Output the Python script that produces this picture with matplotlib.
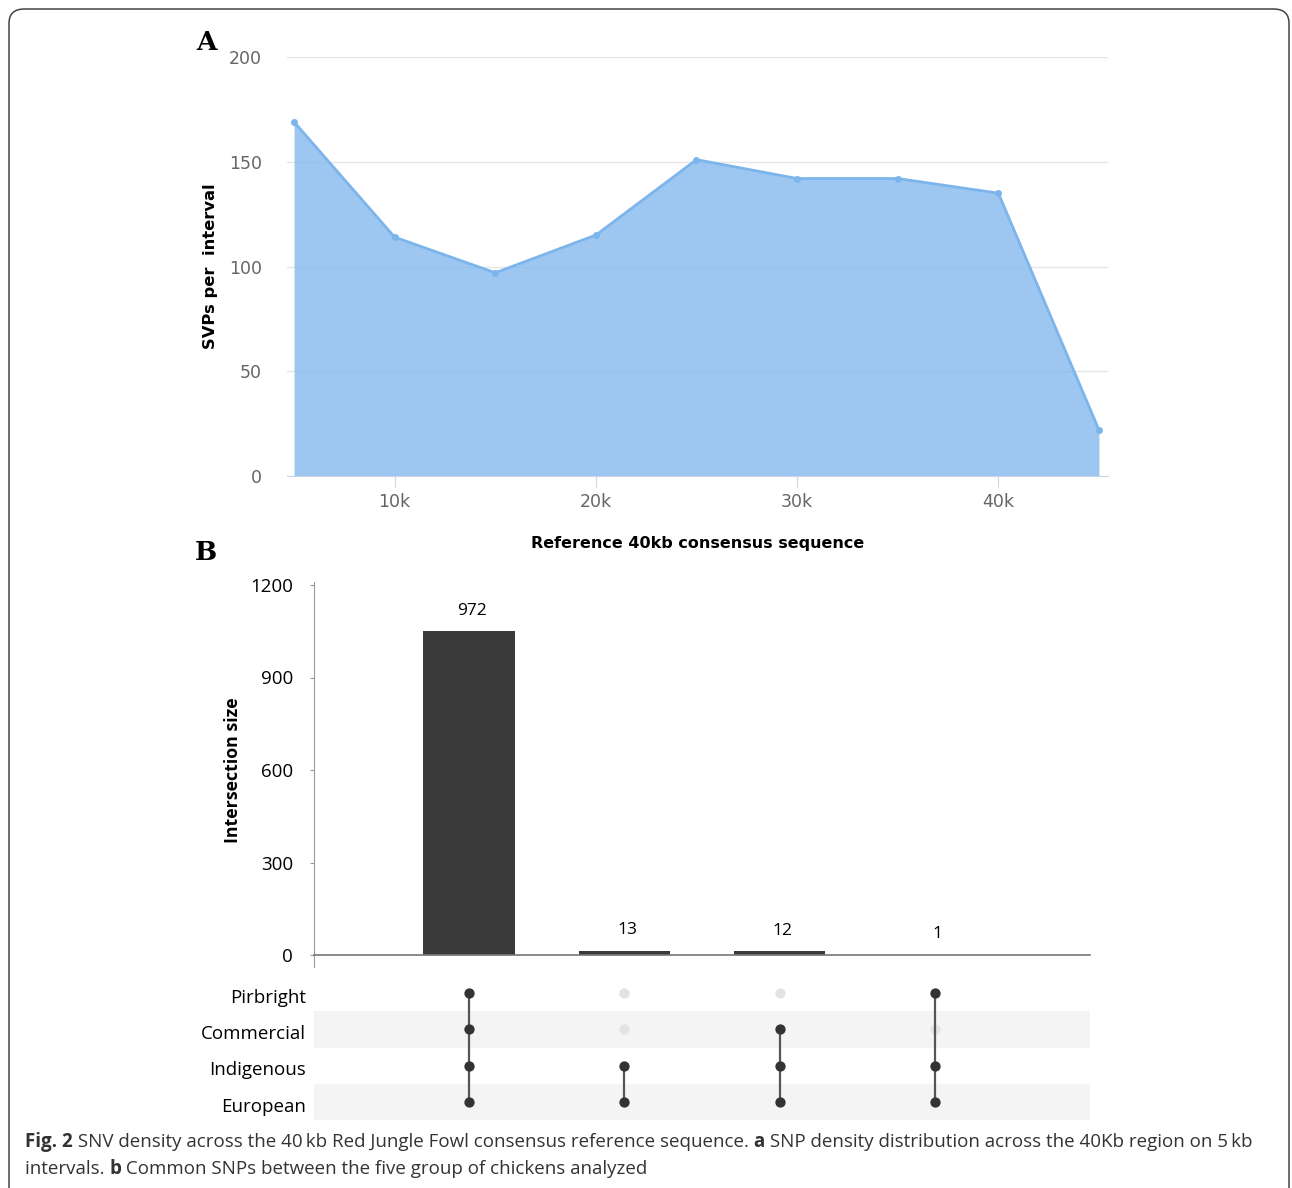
import matplotlib.pyplot as plt
import numpy as np
from matplotlib.patches import FancyBboxPatch

# panel A data: SNPs per 5 kb interval
positions_kb = [5, 10, 15, 20, 25, 30, 35, 40, 45]
svps = [169, 114, 97, 115, 151, 142, 142, 135, 22]

# panel B data: upset plot
sets = ['Pirbright', 'Commercial', 'Indigenous', 'European']
bar_heights = [1050, 13, 12, 1]          # heights as drawn in the figure
bar_labels = ['972', '13', '12', '1']    # labels printed above the bars
membership = [
    [1, 1, 1, 1],
    [0, 0, 1, 1],
    [0, 1, 1, 1],
    [1, 0, 1, 1],
]

W, H = 1292, 1188
fig = plt.figure(figsize=(W / 100, H / 100), dpi=100)


def fx(px):
    return px / W


def fy(py):
    return 1 - py / H


# rounded frame around the figure
frame = FancyBboxPatch((fx(9), fy(1230)), fx(1280), fy(9) - fy(1230),
                       boxstyle='round,pad=0,rounding_size=0.012',
                       transform=fig.transFigure, fill=False, lw=1.1, ec='#444444')
fig.patches.append(frame)

# ---------------- panel A ----------------
axA = fig.add_axes([fx(287), fy(476), fx(1108) - fx(287), fy(57) - fy(476)])
x = np.array(positions_kb) * 1000
axA.fill_between(x, svps, color='#7cb5ec', alpha=0.75, lw=0)
axA.plot(x, svps, color='#7cb5ec', lw=2, marker='o', markersize=4)
axA.set_xlim(4650, 45450)
axA.set_ylim(0, 200)
axA.set_yticks([0, 50, 100, 150, 200])
axA.set_xticks([10000, 20000, 30000, 40000])
axA.set_xticklabels(['10k', '20k', '30k', '40k'])
axA.grid(axis='y', color='#e6e6e6', lw=1)
axA.set_axisbelow(True)
for s in ['top', 'right', 'left']:
    axA.spines[s].set_visible(False)
axA.spines['bottom'].set_color('#ccd6eb')
axA.tick_params(axis='y', length=0, pad=18, labelcolor='#666666', labelsize=12.5)
axA.tick_params(axis='x', length=8, color='#ccd6eb', pad=4, labelcolor='#666666', labelsize=12.5)
axA.set_ylabel('SVPs per  interval', fontsize=11.8, fontweight='bold', labelpad=8)
axA.set_xlabel('Reference 40kb consensus sequence', fontsize=11.5, fontweight='bold', labelpad=18)
fig.text(fx(206), fy(42), 'A', family='serif', fontweight='bold', fontsize=19, ha='center', va='center')
fig.text(fx(206), fy(552), 'B', family='serif', fontweight='bold', fontsize=19, ha='center', va='center')

# ---------------- panel B bars ----------------
axB = fig.add_axes([fx(314), fy(955), fx(1090) - fx(314), fy(585) - fy(955)])
cols = np.arange(len(bar_heights))
axB.bar(cols, bar_heights, width=0.59, color='#3a3a3a')
for c, h, lab in zip(cols, bar_heights, bar_labels):
    axB.annotate(lab, (c + 0.02, h), xytext=(0, 9), textcoords='offset points',
                 ha='center', va='bottom', fontsize=12.5, family='Open Sans')
axB.set_xlim(-1, 4)
axB.set_ylim(0, 1200)
axB.set_yticks([0, 300, 600, 900, 1200])
axB.set_xticks([])
for s in ['top', 'right']:
    axB.spines[s].set_visible(False)
axB.spines['left'].set_color('#999999')
axB.spines['bottom'].set_color('#777777')
axB.spines['bottom'].set_linewidth(1.2)
axB.spines['left'].set_bounds(-40, 1210)
axB.tick_params(axis='y', length=3, color='#999999', labelsize=13.5, pad=12)
for t in axB.get_yticklabels():
    t.set_family('Open Sans')
axB.set_ylabel('Intersection size', fontsize=12.8, fontweight='bold', family='Open Sans', labelpad=6)

# ---------------- panel B matrix ----------------
axM = fig.add_axes([fx(314), fy(1120), fx(1090) - fx(314), fy(975) - fy(1120)])
axM.set_xlim(-1, 4)
axM.set_ylim(3.5, -0.5)
for r in range(len(sets)):
    if r % 2 == 1:
        axM.axhspan(r - 0.5, r + 0.5, color='#f4f4f4', lw=0)
for c, mem in enumerate(membership):
    on = [r for r, m in enumerate(mem) if m]
    off = [r for r, m in enumerate(mem) if not m]
    axM.scatter([c] * len(off), off, s=55, color='#e3e3e3', zorder=2, lw=0)
    axM.plot([c, c], [min(on), max(on)], color='#555555', lw=1.6, zorder=3)
    axM.scatter([c] * len(on), on, s=55, color='#333333', zorder=4, lw=0)
axM.set_yticks([])
axM.set_xticks([])
for r, name in enumerate(sets):
    axM.annotate(name, (-1, r), xytext=(-6, -3.5), textcoords='offset points',
                 ha='right', va='center', fontsize=13.5, family='Open Sans',
                 annotation_clip=False)
for s in axM.spines.values():
    s.set_visible(False)

# ---------------- caption ----------------
fig.canvas.draw()
renderer = fig.canvas.get_renderer()
cap_color = '#333333'
lines = [
    [('Fig. 2', True), (' SNV density across the 40\u2009kb Red Jungle Fowl consensus reference sequence. ', False),
     ('a', True), (' SNP density distribution across the 40Kb region on 5\u2009kb', False)],
    [('intervals. ', False), ('b', True), (' Common SNPs between the five group of chickens analyzed', False)],
]
for yy, parts in zip([1142, 1169], lines):
    xpos = 25
    for txt, bold in parts:
        t = fig.text(fx(xpos), fy(yy), txt, fontsize=13.5, color=cap_color,
                     fontweight='bold' if bold else 'normal', va='center', ha='left',
                     family=['Open Sans', 'DejaVu Sans'])
        bb = t.get_window_extent(renderer=renderer)
        xpos += bb.width

fig.savefig('out.png', dpi=100)
